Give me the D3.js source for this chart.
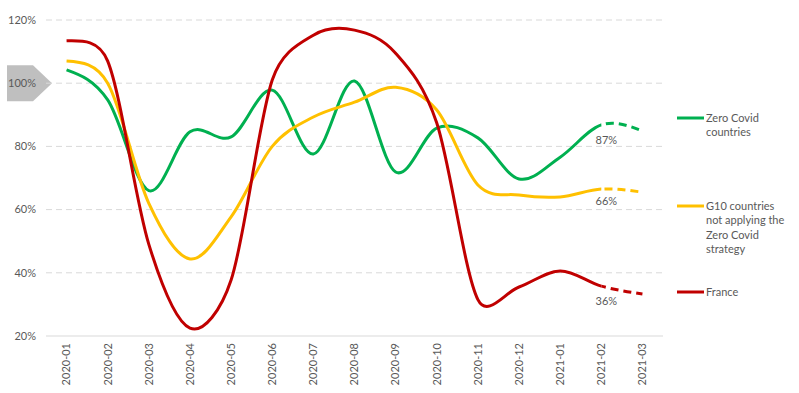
<!DOCTYPE html>
<html>
<head>
<meta charset="utf-8">
<script src="https://cdn.jsdelivr.net/npm/d3@7"></script>
<style>
  body { margin: 0; background: #fff; }
  text { font-family: Lato, "Open Sans", sans-serif; fill: #595959; }
</style>
</head>
<body>
<div id="chart"></div>
<script>
var months = ["2020-01", "2020-02", "2020-03", "2020-04", "2020-05", "2020-06", "2020-07", "2020-08",
              "2020-09", "2020-10", "2020-11", "2020-12", "2021-01", "2021-02", "2021-03"];
var zeroCovid = [104.2, 94.7, 66, 84.6, 83, 97.8, 77.6, 100.7, 71.9, 85.8, 82.7, 69.7, 76.6, 86.8, 84.9];
var g10 = [107, 100, 62, 44.4, 57.7, 80, 89.3, 94, 98.7, 91.5, 67.8, 64.6, 64, 66.5, 65.5];
var france = [113.4, 107, 49, 22.5, 37.7, 101, 115.2, 116.8, 109.5, 87.4, 31.5, 35.5, 40.6, 35.8, 33.3];
var yTicks = [20, 40, 60, 80, 100, 120];

var series = [
  { name: ["Zero Covid", "countries"], values: zeroCovid, color: "#00b050", label: "87%", legendY: 118, labelDy: 15 },
  { name: ["G10 countries", "not applying the", "Zero Covid", "strategy"], values: g10, color: "#ffc000", label: "66%", legendY: 206, labelDy: 12 },
  { name: ["France"], values: france, color: "#c00000", label: "36%", legendY: 292, labelDy: 15 }
];

var width = 799, height = 393;

var svg = d3.select("#chart")
    .append("svg")
    .attr("width", width)
    .attr("height", height);

var x = d3.scaleBand()
    .domain(months)
    .range([46, 663]);

var y = d3.scaleLinear()
    .domain([20, 120])
    .range([336, 20]);

function cx(m) { return x(m) + x.bandwidth() / 2; }

// spreadsheet-like smoothing: catmull-rom tangents, shortened next to short segments
function smoothPath(pts) {
  var n = pts.length, cin = [], cout = [];
  function dist(a, b) { return Math.hypot(b[0] - a[0], b[1] - a[1]); }
  for (var i = 1; i < n - 1; i++) {
    var tx = (pts[i + 1][0] - pts[i - 1][0]) / 6,
        ty = (pts[i + 1][1] - pts[i - 1][1]) / 6,
        len = Math.hypot(tx, ty);
    var sIn = Math.min(1, dist(pts[i - 1], pts[i]) / 2 / len),
        sOut = Math.min(1, dist(pts[i], pts[i + 1]) / 2 / len);
    cin[i] = [pts[i][0] - tx * sIn, pts[i][1] - ty * sIn];
    cout[i] = [pts[i][0] + tx * sOut, pts[i][1] + ty * sOut];
  }
  cout[0] = [(pts[0][0] + cin[1][0]) / 2, (pts[0][1] + cin[1][1]) / 2];
  cin[n - 1] = [(pts[n - 1][0] + cout[n - 2][0]) / 2, (pts[n - 1][1] + cout[n - 2][1]) / 2];
  var p = d3.path();
  p.moveTo(pts[0][0], pts[0][1]);
  for (var j = 1; j < n; j++) {
    p.bezierCurveTo(cout[j - 1][0], cout[j - 1][1], cin[j][0], cin[j][1], pts[j][0], pts[j][1]);
  }
  return p.toString();
}

// 100% marker
svg.append("polygon")
    .attr("points", [[7, y(100) - 18], [33, y(100) - 18], [52, y(100)], [33, y(100) + 18], [7, y(100) + 18]].join(" "))
    .attr("fill", "#bfbfbf");

// grid
svg.append("g")
  .selectAll("line")
  .data(yTicks)
  .enter()
  .append("line")
    .attr("x1", 46)
    .attr("x2", 663)
    .attr("y1", function(d) { return y(d); })
    .attr("y2", function(d) { return y(d); })
    .attr("stroke", "#d9d9d9")
    .attr("stroke-width", 1)
    .attr("stroke-dasharray", function(d) { return d == 20 ? null : "6,4"; });

svg.append("g")
  .selectAll("text")
  .data(yTicks)
  .enter()
  .append("text")
    .attr("x", 36)
    .attr("y", function(d) { return y(d); })
    .attr("dy", "0.35em")
    .attr("text-anchor", "end")
    .style("font-size", "11px")
    .text(function(d) { return d + "%"; });

svg.append("g")
  .selectAll("text")
  .data(months)
  .enter()
  .append("text")
    .attr("transform", function(d) { return "translate(" + cx(d) + ",343) rotate(-90)"; })
    .attr("dy", "0.35em")
    .attr("text-anchor", "end")
    .style("font-size", "11px")
    .text(function(d) { return d; });

// clip regions for solid / dashed parts
var splitX = cx("2021-02");
var defs = svg.append("defs");
defs.append("clipPath").attr("id", "solidClip")
  .append("rect").attr("x", 0).attr("y", 0).attr("width", splitX).attr("height", height);
defs.append("clipPath").attr("id", "dashClip")
  .append("rect").attr("x", splitX).attr("y", 0).attr("width", width - splitX).attr("height", height);

var lines = svg.append("g");

series.forEach(function(s) {
  var pts = s.values.map(function(v, i) { return [cx(months[i]), y(v)]; });
  var d = smoothPath(pts);

  lines.append("path")
      .attr("d", d)
      .attr("fill", "none")
      .attr("stroke", s.color)
      .attr("stroke-width", 3)
      .attr("clip-path", "url(#solidClip)");
  lines.append("path")
      .attr("d", d)
      .attr("fill", "none")
      .attr("stroke", s.color)
      .attr("stroke-width", 3)
      .attr("stroke-dasharray", "8,5")
      .attr("clip-path", "url(#dashClip)");

  var last = s.values[13];
  svg.append("text")
      .attr("x", cx("2021-02") + 5)
      .attr("y", y(last) + s.labelDy)
      .attr("dy", "0.35em")
      .attr("text-anchor", "middle")
      .style("font-size", "11px")
      .text(s.label);

  // legend
  svg.append("line")
      .attr("x1", 677)
      .attr("x2", 704)
      .attr("y1", s.legendY)
      .attr("y2", s.legendY)
      .attr("stroke", s.color)
      .attr("stroke-width", 3);

  svg.append("g")
    .selectAll("text")
    .data(s.name)
    .enter()
    .append("text")
      .attr("x", 706)
      .attr("y", function(d, i) { return s.legendY + i * 14.5; })
      .attr("dy", "0.35em")
      .style("font-size", "11px")
      .text(function(d) { return d; });
});
</script>
</body>
</html>
